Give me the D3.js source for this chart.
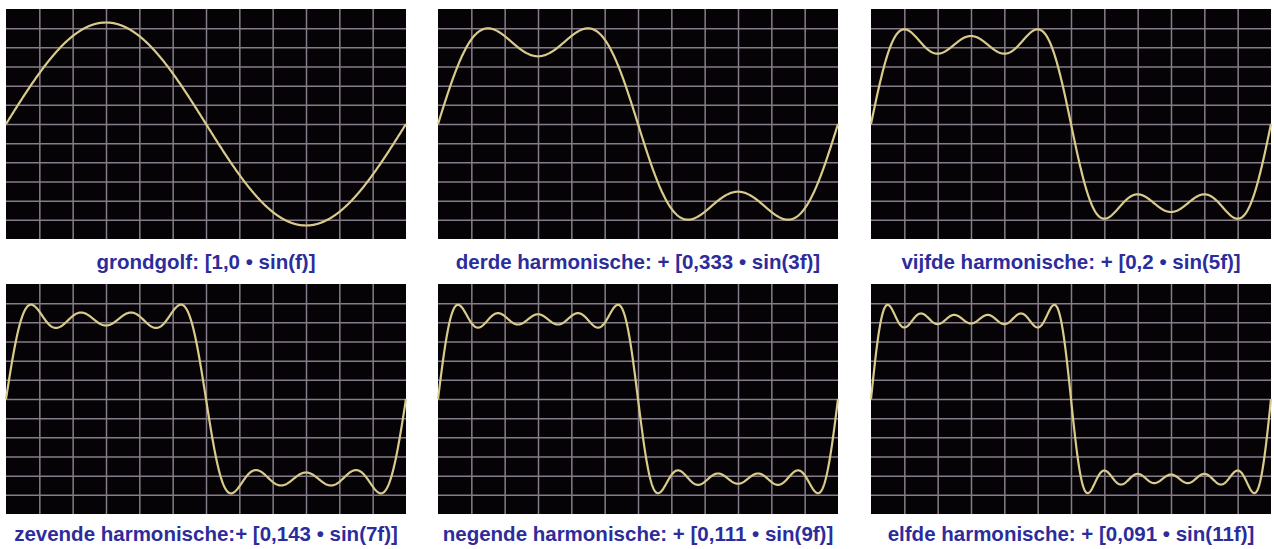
<!DOCTYPE html>
<html>
<head>
<meta charset="utf-8">
<script src="https://cdn.jsdelivr.net/npm/d3@7"></script>
<style>
  body { margin: 0; background: #fff; }
  .label { font-family: "Liberation Sans", Arial, sans-serif; font-weight: bold; font-size: 20.5px; fill: #2c2c9c; }
  .grid line { stroke: #877d8a; stroke-width: 1.5; }
  .grid path { display: none; }
</style>
</head>
<body>
<div id="chart"></div>
<script>
// harmonic order added in each panel, and its amplitude
var harmonics = [1, 3, 5, 7, 9, 11];
var coefficients = [1.0, 0.333, 0.2, 0.143, 0.111, 0.091];
var labels = [
  'grondgolf: [1,0 \u2022 sin(f)]',
  'derde harmonische: + [0,333 \u2022 sin(3f)]',
  'vijfde harmonische: + [0,2 \u2022 sin(5f)]',
  'zevende harmonische:+ [0,143 \u2022 sin(7f)]',
  'negende harmonische: + [0,111 \u2022 sin(9f)]',
  'elfde harmonische: + [0,091 \u2022 sin(11f)]'
];

var width = 1274, height = 549;
var panelW = 400, panelH = 230;
var colX = [6, 438, 871], rowY = [9, 284];
var yMax = 1.133;

var svg = d3.select('#chart').append('svg')
    .attr('width', width)
    .attr('height', height);

var x = d3.scaleLinear().domain([0, 2 * Math.PI]).range([0, panelW]);
var y = d3.scaleLinear().domain([-yMax, yMax]).range([panelH, 0]);

var xGridVals = d3.range(1, 12).map(function(i) { return i * 2 * Math.PI / 12; });
var yGridVals = d3.range(1, 12).map(function(i) { return -yMax + i * 2 * yMax / 12; });

var samples = d3.range(0, 801).map(function(i) { return i * 2 * Math.PI / 800; });

var line = d3.line()
    .x(function(d) { return x(d[0]); })
    .y(function(d) { return y(d[1]); });

harmonics.forEach(function(h, k) {
  var g = svg.append('g')
      .attr('transform', 'translate(' + colX[k % 3] + ',' + rowY[Math.floor(k / 3)] + ')');

  g.append('rect')
      .attr('width', panelW)
      .attr('height', panelH)
      .attr('fill', '#050305');

  g.append('g')
      .attr('class', 'grid')
      .attr('transform', 'translate(0,' + panelH + ')')
      .call(d3.axisBottom(x).tickValues(xGridVals).tickSize(-panelH).tickFormat(''));

  g.append('g')
      .attr('class', 'grid')
      .call(d3.axisLeft(y).tickValues(yGridVals).tickSize(-panelW).tickFormat(''));

  // partial sum up to this harmonic
  var pts = samples.map(function(f) {
    var v = 0;
    for (var j = 0; j <= k; j++) v += coefficients[j] * Math.sin(harmonics[j] * f);
    return [f, v];
  });

  g.append('path')
      .datum(pts)
      .attr('d', line)
      .attr('fill', 'none')
      .attr('stroke', '#d9cb8c')
      .attr('stroke-width', 2.2);

  g.append('text')
      .attr('class', 'label')
      .attr('x', panelW / 2)
      .attr('y', panelH + (k < 3 ? 30 : 27))
      .attr('text-anchor', 'middle')
      .text(labels[k]);
});
</script>
</body>
</html>
